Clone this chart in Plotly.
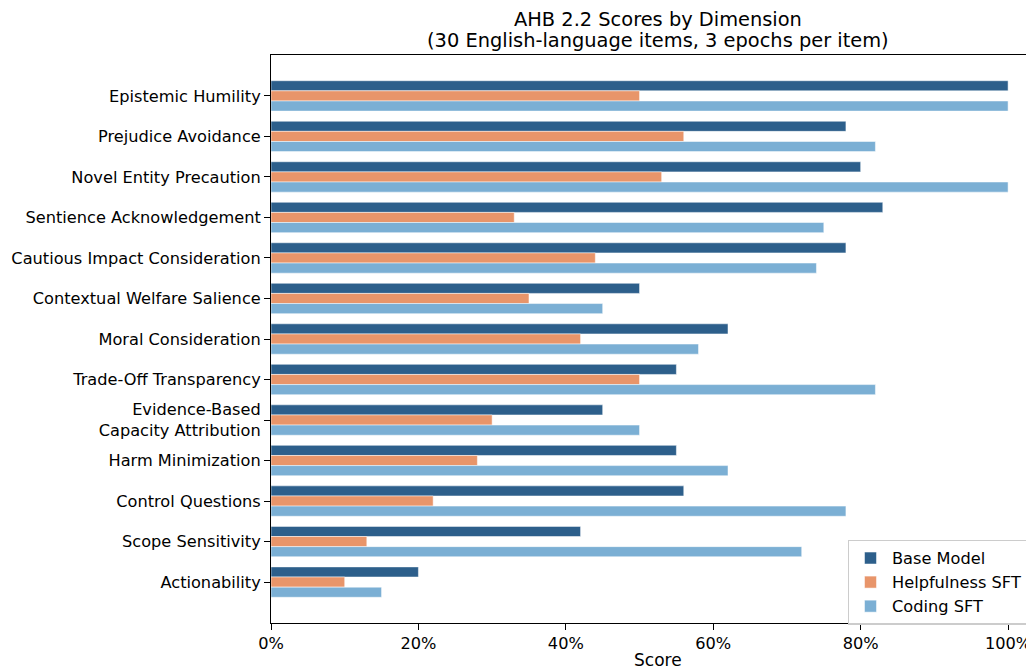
import plotly.graph_objects as go

categories = [
    "Epistemic Humility",
    "Prejudice Avoidance",
    "Novel Entity Precaution",
    "Sentience Acknowledgement",
    "Cautious Impact Consideration",
    "Contextual Welfare Salience",
    "Moral Consideration",
    "Trade-Off Transparency",
    "Evidence-Based<br>Capacity Attribution",
    "Harm Minimization",
    "Control Questions",
    "Scope Sensitivity",
    "Actionability",
]

base_model = [100, 78, 80, 83, 78, 50, 62, 55, 45, 55, 56, 42, 20]
helpfulness_sft = [50, 56, 53, 33, 44, 35, 42, 50, 30, 28, 22, 13, 10]
coding_sft = [100, 82, 100, 75, 74, 45, 58, 82, 50, 62, 78, 72, 15]

series = [
    ("Base Model", base_model, "#2d5f8b"),
    ("Helpfulness SFT", helpfulness_sft, "#e8956a"),
    ("Coding SFT", coding_sft, "#7bafd4"),
]

x_ticks = [0, 20, 40, 60, 80, 100]
x_tick_labels = ["0%", "20%", "40%", "60%", "80%", "100%"]

title_line1 = "AHB 2.2 Scores by Dimension"
title_line2 = "(30 English-language items, 3 epochs per item)"
x_title = "Score"

fig = go.Figure()
for name, vals, color in series:
    fig.add_trace(go.Bar(
        y=categories, x=vals, name=name, orientation="h",
        marker=dict(color=color, line=dict(color="white", width=0.5)),
    ))

font = "DejaVu Sans, Arial, sans-serif"
PW = 771.0  # plot-area width in px (extends past the window edge, as in the reference)
PH = 568.0
# the page body adds an 8px offset; figure size and margins compensate for it
fig.update_layout(
    width=1034, height=661,
    barmode="group", bargap=0.25, bargroupgap=0,
    plot_bgcolor="white", paper_bgcolor="white",
    margin=dict(l=263, r=0, t=47, b=46, autoexpand=False),
    font=dict(family=font, size=16.2, color="black"),
    xaxis=dict(
        range=[0, 104.6], tickvals=x_ticks, ticktext=x_tick_labels,
        showgrid=False, zeroline=False, showline=True, linecolor="black", linewidth=1,
        mirror=True, ticks="outside", ticklen=6, tickwidth=1, tickcolor="black",
        tickfont=dict(size=16.2), automargin=False,
    ),
    yaxis=dict(
        range=[13.01, -1.01],
        showgrid=False, zeroline=False, showline=True, linecolor="black", linewidth=1,
        mirror=True, ticks="outside", ticklen=6, tickwidth=1, tickcolor="black",
        tickfont=dict(size=16.2), automargin=False,
    ),
    legend=dict(
        x=(848 - 271) / PW, y=(623 - 540) / PH, xanchor="left", yanchor="top",
        bgcolor="rgba(255,255,255,0.8)", bordercolor="#cccccc", borderwidth=1,
        font=dict(size=16.2), traceorder="normal", itemwidth=33,
    ),
    annotations=[
        dict(text=title_line1, x=(658 - 271) / PW, y=(623 - 19) / PH,
             xref="paper", yref="paper", xanchor="center", yanchor="middle",
             showarrow=False, font=dict(size=19.4)),
        dict(text=title_line2, x=(658 - 271) / PW, y=(623 - 41) / PH,
             xref="paper", yref="paper", xanchor="center", yanchor="middle",
             showarrow=False, font=dict(size=19.4)),
        dict(text=x_title, x=(658 - 271) / PW, y=(623 - 660) / PH,
             xref="paper", yref="paper", xanchor="center", yanchor="middle",
             showarrow=False, font=dict(size=17)),
    ],
)

fig.write_html("out.html")
